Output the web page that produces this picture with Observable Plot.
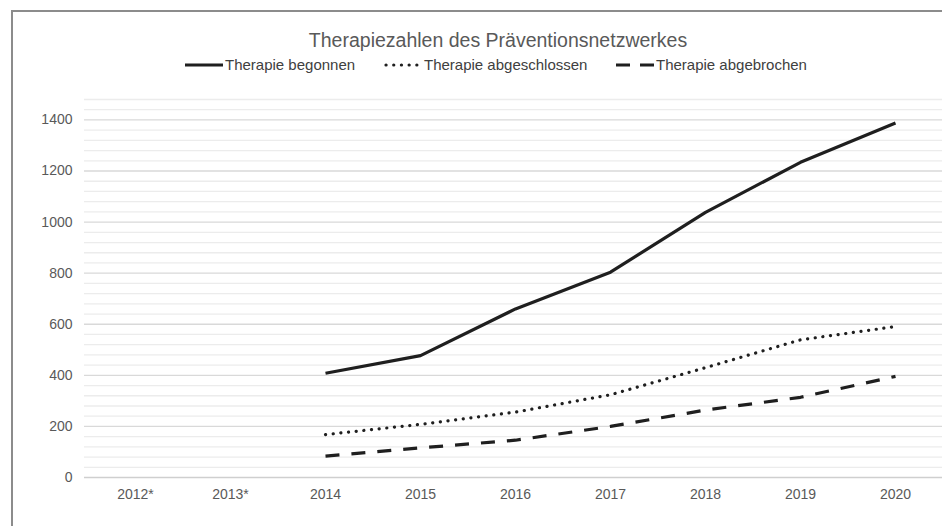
<!DOCTYPE html>
<html><head><meta charset="utf-8">
<script src="https://cdn.jsdelivr.net/npm/d3@7"></script>
<script src="https://cdn.jsdelivr.net/npm/@observablehq/plot@0.6"></script>
<style>
body{margin:0;background:#fff;font-family:"Liberation Sans",Arial,sans-serif;}
#wrap{position:relative;width:942px;height:526px;overflow:hidden;background:#fff;}
#chart{position:absolute;left:0;top:0;}
#frame{position:absolute;left:11px;top:10px;width:1000px;height:600px;border:2px solid #8c8c8c;box-sizing:border-box;pointer-events:none;}
#title{position:absolute;top:29px;left:0;width:996px;text-align:center;font-size:19.5px;line-height:23px;color:#595959;}
.leg{position:absolute;top:56px;height:18px;font-size:15px;line-height:18px;color:#404040;display:flex;align-items:center;white-space:nowrap;}
.leg svg{margin-right:2px;}
</style>
</head><body>
<div id="wrap">
  <div id="chart"></div>
  <div id="frame"></div>
  <div id="title">Therapiezahlen des Präventionsnetzwerkes</div>
  <div id="legend"></div>
</div>
<script>
const years = ["2012*","2013*","2014","2015","2016","2017","2018","2019","2020"];
const begonnen = [null, null, 408, 477, 660, 804, 1038, 1234, 1388];
const abgeschlossen = [null, null, 168, 208, 256, 324, 430, 539, 591];
const abgebrochen = [null, null, 84, 116, 146, 200, 264, 314, 396];
const yTicks = [0, 200, 400, 600, 800, 1000, 1200, 1400];
const seriesNames = ["Therapie begonnen", "Therapie abgeschlossen", "Therapie abgebrochen"];

const styles = [
  {dash: null, cap: "butt"},
  {dash: "0.1,7.6", cap: "round"},
  {dash: "14,12", cap: "butt"}
];
const seriesValues = [begonnen, abgeschlossen, abgebrochen];
const tables = seriesValues.map((vals, i) =>
  years.map((y, j) => ({year: y, value: vals[j], series: seriesNames[i]})).filter(d => d.value != null)
);

const gridAll = d3.range(40, 1481, 40);
const gridMinor = gridAll.filter(v => v % 200 !== 0);
const gridMajor = gridAll.filter(v => v % 200 === 0);

const plot = Plot.plot({
  width: 942,
  height: 526,
  marginLeft: 84,
  marginRight: 0,
  marginTop: 99,
  marginBottom: 49,
  style: {fontFamily: "'Liberation Sans', Arial, sans-serif", background: "transparent"},
  x: {type: "point", domain: years, range: [132, 897], padding: 0},
  y: {domain: [0, 1480]},
  marks: [
    Plot.ruleY(gridMinor, {stroke: "#ececec", strokeWidth: 1.3}),
    Plot.ruleY(gridMajor, {stroke: "#d9d9d9", strokeWidth: 1.3}),
    Plot.ruleY([0], {stroke: "#cfcfcf", strokeWidth: 1.5}),
    Plot.axisY({ticks: yTicks, tickFormat: d => String(d), tickSize: 0, tickPadding: 12, fontSize: 14, fill: "#595959", label: null}),
    Plot.axisX({tickSize: 0, tickPadding: 12, fontSize: 14, fill: "#595959", label: null}),
    ...tables.map((t, i) => Plot.line(t, {
      x: "year", y: "value", stroke: "#1f1f1f", strokeWidth: 3.2,
      strokeDasharray: styles[i].dash, strokeLinecap: styles[i].cap, strokeLinejoin: "round"
    }))
  ]
});
document.getElementById("chart").appendChild(plot);

// legend
const legendPos = [185, 384, 616];
const leg = document.getElementById("legend");
seriesNames.forEach((name, i) => {
  const d = document.createElement("div");
  d.className = "leg";
  d.style.left = legendPos[i] + "px";
  const s = styles[i];
  const dashAttr = i === 2 ? 'stroke-dasharray="14,10"' : (s.dash ? `stroke-dasharray="${s.dash}"` : "");
  d.innerHTML = `<svg width="38" height="6"><line x1="${i===1?2:0}" y1="3" x2="${i===1?36:38}" y2="3" stroke="#1f1f1f" stroke-width="3.2" stroke-linecap="${s.cap}" ${dashAttr}/></svg><span>${name}</span>`;
  leg.appendChild(d);
});
</script>
</body></html>
